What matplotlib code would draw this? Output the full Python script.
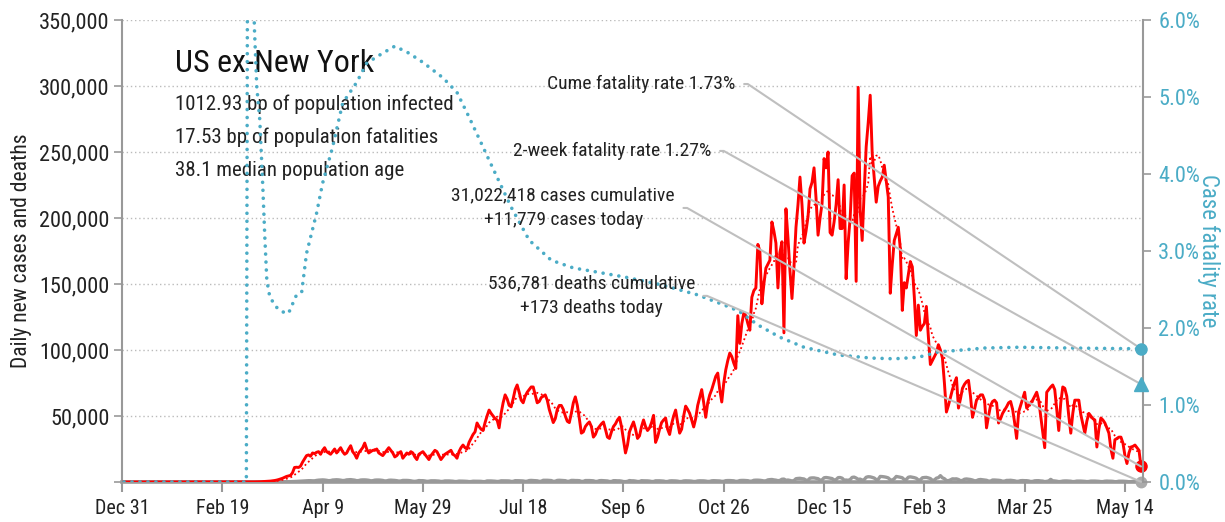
import math
import matplotlib
matplotlib.use("Agg")
import matplotlib.pyplot as plt
import matplotlib.text as mtext
import numpy as np
import pandas as pd
from matplotlib import font_manager
from matplotlib.ticker import FuncFormatter, PercentFormatter

# ---------------- data ----------------
title = "US ex-New York"
info_lines = ["1012.93 bp of population infected",
              "17.53 bp of population fatalities",
              "38.1 median population age"]
x_tick_labels = ["Dec 31", "Feb 19", "Apr 9", "May 29", "Jul 18", "Sep 6",
                 "Oct 26", "Dec 15", "Feb 3", "Mar 25", "May 14"]

# daily new cases (thousands), Jan 1 2020 .. Feb 29 2020
cases_jan_feb = [0, 0, 0, 0, 0, 0, 0, 0, 0, 0,
                 0, 0, 0, 0, 0, 0, 0, 0, 0, 0,
                 0, 0, 0, 0, 0, 0, 0, 0, 0, 0,
                 0, 0, 0, 0, 0, 0, 0, 0, 0, 0,
                 0, 0, 0, 0, 0, 0, 0, 0, 0, 0,
                 0, 0, 0, 0, 0, 0, 0, 0, 0, 0]
# daily new cases (thousands), weeks Sun..Sat from Mar 1 2020 to May 22 2021
cases_weeks = [
    0.01, 0.02, 0.03, 0.05, 0.06, 0.08, 0.1,
    0.15, 0.2, 0.3, 0.4, 0.5, 0.6, 0.7,
    0.9, 1.1, 1.4, 1.8, 2.3, 2.8, 3.5,
    4.2, 4.6, 5.0, 7.0, 11.0, 11.2, 11.0,
    12.0, 15.0, 17.5, 20.0, 20.5, 19.5, 22.0,
    21.5, 22.5, 23.0, 21.0, 24.0, 26.0, 23.0,
    22, 21, 23, 25, 22, 24, 26,
    23, 21, 22, 25, 27.5, 23, 21,
    18, 22, 24, 26, 29.5, 25, 22,
    23, 24, 24, 25, 22, 21, 20,
    22, 24, 26, 24, 22, 19, 20,
    22, 23, 18, 20, 22, 21, 23,
    22, 19, 17, 21, 22, 23, 21,
    19, 17, 20, 22, 24, 23, 20,
    17, 19, 21, 22, 23, 24, 21,
    20, 18, 23, 26, 28, 26, 25,
    30, 33, 36, 38, 44.7, 42, 40,
    39, 45, 50, 54.5, 52, 50, 48,
    47, 41, 52, 60, 66, 63, 58,
    57, 63, 70, 73.5, 68, 62, 60,
    65, 68, 70, 72, 72, 66, 60,
    61, 64, 65, 66, 62, 55, 50,
    45, 48, 55, 58, 58, 55, 50,
    46, 45, 52, 60, 64.5, 58, 48,
    37, 38, 42, 44, 45.5, 42, 34,
    36, 40, 42, 44, 45.5, 40, 34,
    33, 38, 42, 44, 47, 49, 42,
    32, 22, 28, 38, 42, 45.5, 40,
    33, 35, 42, 47, 42, 39, 41,
    45, 50.5, 30, 34, 40, 45, 47,
    48.5, 40, 36, 44, 50, 54.5, 45,
    37, 40, 50, 57.5, 55, 52, 47,
    41.7, 48, 58, 64, 70, 60, 49,
    60, 66, 70, 75, 80, 82.5, 70,
    60.6, 75, 85, 92, 97.7, 95, 90,
    86, 126, 105, 120, 128, 126, 120,
    115, 140, 145, 147, 180, 175, 135,
    150, 162, 165, 168, 197, 190, 181,
    147, 174, 182, 113, 207, 185, 160,
    139, 163, 193, 210, 231, 210, 181,
    190, 201, 222, 227, 238, 215, 187,
    200, 211, 245, 238, 250, 189, 187,
    197, 210, 229, 192, 192, 225, 154,
    181, 200, 232, 234, 152, 299, 206,
    183, 220, 254, 272, 293, 249, 230,
    212, 224, 228, 231, 240, 228, 216,
    143, 165, 183, 188, 193, 177, 130,
    151, 147, 157, 167, 163, 140, 111,
    134, 115, 118, 120, 133, 110, 89,
    92, 95, 98, 104, 100, 94, 75,
    53, 58, 64, 70, 75, 79, 56,
    63, 71, 74, 76, 77, 65, 49,
    55, 62, 64, 66, 66, 62, 41,
    50, 58, 61, 62, 60, 44.7, 48,
    52, 54.5, 57, 60, 61, 55, 45,
    33, 53, 58, 63, 68, 56, 58,
    60, 62, 65, 68, 62, 50, 38,
    26, 68, 70, 72, 73.5, 70, 55,
    39, 60, 72, 71, 65, 50, 37,
    52, 62, 62, 62, 51, 44, 37,
    46, 52, 50, 48, 47, 26.5, 40,
    48.5, 47, 44.7, 41, 37, 25, 18,
    32, 33, 34, 34, 29.5, 20, 14,
    22, 26.5, 27, 28, 26, 24, 11.779,
]

# daily new deaths (thousands)
deaths_jan_feb = [0, 0, 0, 0, 0, 0, 0, 0, 0, 0,
                  0, 0, 0, 0, 0, 0, 0, 0, 0, 0,
                  0, 0, 0, 0, 0, 0, 0, 0, 0, 0,
                  0, 0, 0, 0, 0, 0, 0, 0, 0, 0,
                  0, 0, 0, 0, 0, 0, 0, 0, 0, 0,
                  0, 0, 0, 0, 0, 0, 0, 0, 0, 0]
deaths_weeks = [
    0, 0, 0.001, 0.002, 0.002, 0.003, 0.004,
    0.005, 0.007, 0.009, 0.012, 0.015, 0.02, 0.025,
    0.03, 0.04, 0.05, 0.06, 0.08, 0.1, 0.12,
    0.15, 0.2, 0.25, 0.3, 0.4, 0.45, 0.55,
    0.6, 0.7, 0.8, 0.9, 1.0, 1.0, 0.9,
    0.9, 1.2, 1.4, 1.5, 1.6, 1.5, 1.3,
    1.0, 1.1, 1.5, 1.6, 1.7, 1.6, 1.4,
    1.1, 1.2, 1.6, 1.7, 1.8, 1.6, 1.4,
    1.0, 1.1, 1.5, 1.6, 1.6, 1.5, 1.3,
    0.9, 1.0, 1.4, 1.5, 1.5, 1.4, 1.2,
    0.8, 0.9, 1.3, 1.4, 1.3, 1.2, 1.0,
    0.7, 0.8, 1.2, 1.2, 1.2, 1.1, 0.9,
    0.6, 0.5, 0.7, 1.1, 1.0, 1.0, 0.8,
    0.5, 0.6, 0.9, 0.9, 0.9, 0.8, 0.7,
    0.4, 0.5, 0.8, 0.8, 0.8, 0.7, 0.6,
    0.35, 0.4, 0.7, 0.7, 0.65, 0.6, 0.5,
    0.3, 0.35, 0.6, 0.6, 0.6, 0.55, 0.5,
    0.3, 0.3, 0.8, 0.8, 0.8, 0.7, 0.6,
    0.4, 0.5, 0.9, 0.9, 0.9, 0.85, 0.8,
    0.45, 0.5, 1.0, 1.0, 0.95, 0.9, 0.8,
    0.5, 0.6, 1.1, 1.2, 1.1, 1.0, 0.9,
    0.5, 0.6, 1.3, 1.3, 1.3, 1.2, 1.1,
    0.5, 0.6, 1.2, 1.3, 1.2, 1.1, 1.0,
    0.5, 0.6, 1.2, 1.2, 1.1, 1.1, 1.0,
    0.5, 0.5, 1.1, 1.1, 1.1, 1.0, 0.9,
    0.45, 0.5, 1.0, 1.1, 1.0, 0.95, 0.8,
    0.4, 0.4, 1.0, 1.0, 0.9, 0.9, 0.7,
    0.35, 0.3, 0.5, 1.1, 0.9, 0.9, 0.7,
    0.4, 0.4, 1.0, 0.9, 0.9, 0.85, 0.7,
    0.4, 0.4, 0.9, 0.9, 0.9, 0.8, 0.7,
    0.35, 0.4, 0.8, 0.9, 0.85, 0.8, 0.65,
    0.35, 0.4, 0.8, 0.9, 0.85, 0.8, 0.65,
    0.4, 0.45, 0.8, 0.9, 0.9, 0.85, 0.7,
    0.45, 0.5, 0.9, 1.0, 0.95, 0.9, 0.8,
    0.5, 0.55, 1.0, 1.1, 1.1, 1.0, 0.9,
    0.5, 0.6, 1.1, 1.2, 1.2, 1.1, 1.0,
    0.6, 0.7, 1.3, 1.4, 1.4, 1.3, 1.1,
    0.8, 0.9, 1.6, 1.8, 1.9, 1.6, 1.4,
    1.0, 1.2, 2.1, 2.2, 1.3, 1.5, 1.2,
    0.8, 1.1, 2.5, 2.7, 2.8, 2.5, 2.3,
    1.3, 1.4, 2.9, 3.1, 3.1, 2.8, 2.5,
    1.4, 1.6, 3.2, 3.4, 3.2, 2.9, 2.6,
    1.5, 1.8, 3.3, 3.4, 2.9, 1.4, 1.5,
    1.3, 1.8, 3.5, 3.7, 3.0, 2.0, 2.2,
    1.4, 1.8, 3.6, 4.0, 3.9, 3.5, 3.0,
    1.8, 2.0, 4.2, 4.1, 3.9, 3.6, 3.1,
    1.7, 1.4, 2.5, 4.2, 3.9, 3.6, 3.2,
    1.8, 1.9, 3.6, 3.9, 3.6, 3.3, 2.8,
    1.5, 1.6, 3.2, 3.4, 3.5, 3.1, 2.6,
    1.3, 1.5, 2.9, 3.3, 4.8, 3.2, 2.5,
    1.1, 1.0, 1.6, 2.4, 2.3, 2.4, 1.9,
    1.0, 1.2, 2.1, 2.3, 2.1, 1.9, 1.5,
    0.9, 1.0, 1.7, 1.9, 1.7, 1.5, 1.3,
    0.7, 0.7, 1.5, 1.5, 1.4, 1.3, 1.1,
    0.6, 0.7, 1.2, 1.2, 1.3, 1.1, 0.9,
    0.5, 0.6, 1.0, 1.1, 1.0, 1.0, 0.8,
    0.4, 0.5, 0.9, 1.0, 1.0, 0.8, 0.7,
    0.3, 0.5, 0.8, 2.0, 0.9, 0.8, 0.6,
    0.3, 0.4, 0.7, 0.8, 0.8, 0.7, 0.6,
    0.3, 0.4, 0.7, 0.7, 0.7, 0.6, 0.5,
    0.3, 0.4, 0.7, 0.7, 0.7, 0.6, 0.5,
    0.3, 0.3, 0.6, 0.7, 0.6, 0.6, 0.5,
    0.25, 0.3, 0.6, 0.6, 0.6, 0.5, 0.4,
    0.2, 0.3, 0.5, 0.6, 0.5, 0.4, 0.173,
]

# cumulative case fatality rate (%), read at sample days (day 0 = Dec 31 2019)
cfr_days = [1, 62, 63, 65, 66, 67.2, 68.7, 70.2, 71.2, 72.2, 73.7, 77, 80, 83,
            87, 89.6, 92, 97, 100, 105, 110, 117, 122, 130, 136, 143, 150,
            160, 167, 173, 180, 183, 194, 203, 214, 225, 236, 251, 269, 287,
            303, 308, 317, 328, 340, 357, 373, 385, 397, 407, 417, 430, 447,
            472, 508]
cfr_pct = [0, 0, 12, 7.5, 5.9, 5.13, 4.7, 3.83, 3.18, 2.62, 2.40, 2.27, 2.21,
           2.19, 2.43, 2.47, 2.97, 3.49, 3.88, 4.35, 4.92, 5.19, 5.44, 5.57,
           5.66, 5.57, 5.45, 5.25, 5.06, 4.74, 4.35, 4.18, 3.57, 3.14, 2.88,
           2.78, 2.73, 2.66, 2.56, 2.43, 2.27, 2.21, 2.04, 1.88, 1.75, 1.65,
           1.61, 1.60, 1.62, 1.69, 1.71, 1.74, 1.75, 1.74, 1.73]

cume_cfr = 1.73
two_week_cfr = 1.27
cases_cumulative = 31022418
cases_today = 11779
deaths_cumulative = 536781
deaths_today = 173

# ---------------- build ----------------
cases = np.array(cases_jan_feb + cases_weeks) * 1000.0
deaths = np.array(deaths_jan_feb + deaths_weeks) * 1000.0
days = np.arange(1, len(cases) + 1)
cases_avg = pd.Series(cases).rolling(7).mean().to_numpy()
last_day = days[-1]

# pick a condensed sans font if one is installed
fonts = font_manager.fontManager.ttflist
names = {f.name for f in fonts}
narrow_candidates = ["Roboto Condensed", "Liberation Sans Narrow", "Open Sans Condensed",
                     "Noto Sans Condensed", "Arial Narrow", "Nimbus Sans Narrow",
                     "DejaVu Sans Condensed"]
chosen = None
for c in narrow_candidates:
    if c in names:
        chosen = c
        break
stretch = "normal"
scale = 1.0
if chosen is None:
    cond = [f for f in fonts if f.stretch in ("condensed", "semi-condensed", 75, 87.5, "extra-condensed")]
    pref = [f.name for f in cond if f.name in ("Roboto", "Noto Sans", "Open Sans", "DejaVu Sans")]
    if pref:
        chosen = pref[0]
        stretch = "condensed"
    else:
        chosen = "Roboto" if "Roboto" in names else "DejaVu Sans"
        scale = 0.88
plt.rcParams["font.family"] = [chosen, "DejaVu Sans"]
plt.rcParams["font.stretch"] = stretch

RED = "#FF0000"
TEAL = "#4BACC6"
GREY = "#999999"
LINE_GREY = "#BFBFBF"
fs = lambda s: s * scale

fig = plt.figure(figsize=(12.25, 5.22), dpi=100)
ax = fig.add_axes([122 / 1225, 40 / 522, 1021 / 1225, 462 / 522])
ax2 = ax.twinx()

ax.set_xlim(0, last_day + 1)
ax.set_ylim(0, 350000)
ax2.set_ylim(0, 0.06)

ax.set_axisbelow(True)
ax.yaxis.grid(True, linestyle=(0, (1, 2)), color="#BBBBBB", lw=1)

ax.plot(days, deaths, color="#9A9A9A", lw=2.4, zorder=2, solid_joinstyle="round")
ax.plot(days, cases_avg, color=RED, lw=1.3, linestyle=(0, (1, 1.6)), zorder=3)
ax.plot(days, cases, color=RED, lw=2.1, zorder=4, solid_joinstyle="round")

ax2.plot(cfr_days, np.array(cfr_pct) / 100, color=TEAL, lw=2.6,
         linestyle=(0, (0.01, 2.2)), dash_capstyle="round", zorder=3)

# end markers
ax.plot([last_day], [cases_today], "o", color=RED, ms=8, clip_on=False, zorder=6)
ax.plot([last_day], [deaths_today], "o", color="#AAAAAA", ms=7.5, clip_on=False, zorder=6)
ax2.plot([last_day], [cume_cfr / 100], "o", color=TEAL, ms=8, clip_on=False, zorder=6)
ax2.plot([last_day], [two_week_cfr / 100], "^", color=TEAL, ms=9.5, clip_on=False, zorder=6)

# spines / ticks
for a in (ax, ax2):
    a.spines["top"].set_visible(False)
ax.spines["right"].set_visible(False)
ax2.spines["left"].set_visible(False)
ax2.spines["bottom"].set_visible(False)
ax.spines["left"].set_color(GREY)
ax.spines["left"].set_linewidth(1.5)
ax.spines["bottom"].set_color(GREY)
ax.spines["bottom"].set_linewidth(2.6)
ax2.spines["right"].set_color(GREY)
ax2.spines["right"].set_linewidth(1.5)

ax.set_xticks(np.arange(len(x_tick_labels)) * 50)
ax.set_xticklabels(x_tick_labels)
ax.set_yticks(np.arange(0, 350001, 50000))
ax.yaxis.set_major_formatter(FuncFormatter(lambda v, p: "" if v == 0 else f"{int(v):,}"))
ax.tick_params(axis="x", direction="out", length=7, width=1.5, color=GREY,
               labelsize=fs(14.5), pad=5, labelcolor="#222222")
ax.tick_params(axis="y", direction="out", length=6, width=1.2, color=GREY,
               labelsize=fs(16), pad=3, labelcolor="#222222")
ax2.set_yticks(np.arange(0, 0.0601, 0.01))
ax2.yaxis.set_major_formatter(PercentFormatter(1.0, decimals=1))
ax2.tick_params(axis="y", direction="out", length=6, width=1.2, color=GREY,
                labelsize=fs(16), labelcolor=TEAL, pad=5)

ax.set_ylabel("Daily new cases and deaths", fontsize=fs(15.5), color="#222222", labelpad=5)
ax2.set_ylabel("Case fatality rate", fontsize=fs(16.5), color=TEAL, rotation=270, labelpad=14)

# title block
ax.text(0.052, 0.905, title, transform=ax.transAxes, fontsize=fs(23), color="#111111",
        ha="left", va="center")
for i, line in enumerate(info_lines):
    ax.text(0.052, 0.818 - i * 0.072, line, transform=ax.transAxes, fontsize=fs(15),
            color="#222222", ha="left", va="center")

# annotations
ann_specs = [
    (f"Cume fatality rate {cume_cfr:.2f}%", ax2, (last_day, cume_cfr / 100), (306, 301500), "right"),
    (f"2-week fatality rate {two_week_cfr:.2f}%", ax2, (last_day, two_week_cfr / 100), (294, 250800), "right"),
    (f"{cases_cumulative:,} cases cumulative\n+{cases_today:,} cases today",
     ax, (last_day, cases_today), (220, 207600), "center"),
    (f"{deaths_cumulative:,} deaths cumulative\n+{deaths_today:,} deaths today",
     ax, (last_day, deaths_today), (234, 141000), "center"),
]
anns = []
for txt, src_ax, xy, xytext, ha in ann_specs:
    a = ax2.annotate(txt, xy=xy, xycoords=src_ax.transData, xytext=xytext,
                     textcoords=ax.transData, fontsize=fs(14), ha=ha, va="center",
                     color="#222222", linespacing=1.45, zorder=5,
                     arrowprops=dict(arrowstyle="-", color=LINE_GREY, lw=1.5,
                                     shrinkA=4, shrinkB=0, relpos=(1.0, 0.5)))
    anns.append((a, src_ax, xy))

# give each leader a short horizontal lead-in before the diagonal
fig.canvas.draw()
renderer = fig.canvas.get_renderer()
for a, src_ax, xy in anns:
    bb = mtext.Text.get_window_extent(a, renderer)
    cx, cy = bb.x1 + 12, (bb.y0 + bb.y1) / 2
    tx, ty = src_ax.transData.transform(xy)
    angB = math.degrees(math.atan2(cy - ty, cx - tx))
    a.arrow_patch.set_connectionstyle(f"angle,angleA=0,angleB={angB:.3f},rad=0")

fig.savefig("out.png", dpi=100)
